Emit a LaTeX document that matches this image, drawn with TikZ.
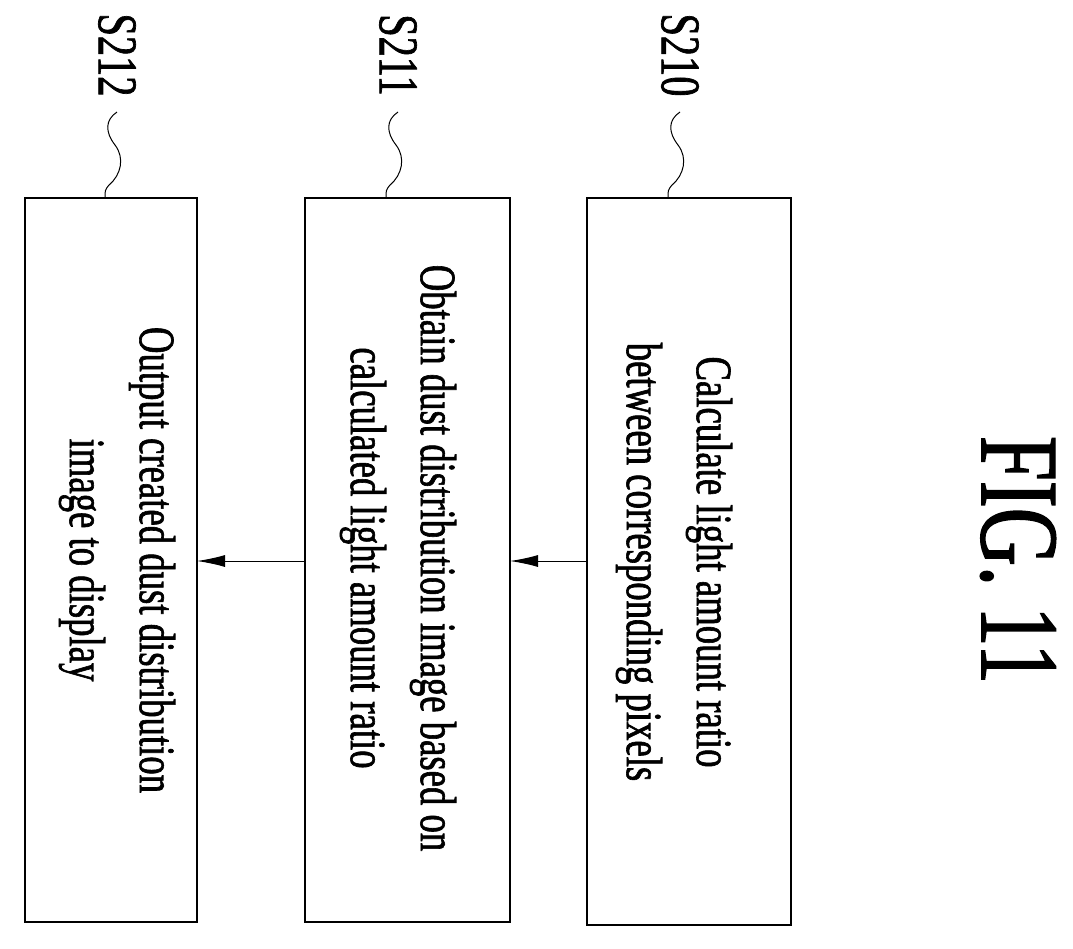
\documentclass[tikz,border=0pt]{standalone}
\usepackage{fontspec}
\setmainfont{Liberation Serif}
\newfontfamily\nar[FakeStretch=0.72,FakeBold=1.2]{Liberation Serif}
\usetikzlibrary{arrows.meta}
\begin{document}
\begin{tikzpicture}[x=1pt,y=-1pt,
  box/.style={draw,line width=2.2pt},
  txt/.style={rotate=-90,align=center,font=\nar\fontsize{51}{70}\selectfont,inner sep=0},
  lab/.style={rotate=-90,font=\nar\fontsize{56}{56}\selectfont,inner sep=0},
  arr/.style={line width=1pt,-{Latex[length=28pt,width=12pt]}},
  lead/.style={line width=1pt}]
\useasboundingbox (0,0) rectangle (1073,948);
\draw[box] (587,198) rectangle (791,925);
\draw[box] (305,198) rectangle (510,922);
\draw[box] (25,198) rectangle (197,922);
\node[txt] (t1) at (674,562) {Calculate light amount ratio\\between corresponding pixels};
\node[txt] (t2) at (398,558) {Obtain dust distribution image based on\\calculated light amount ratio};
\node[txt] (t3) at (117,560) {Output created dust distribution\\image to display};
\coordinate (r1) at (587,561); \coordinate (l2) at (510,561);
\coordinate (r2) at (305,561); \coordinate (l3) at (197,561);
\draw[arr] (r1) -- (l2);
\draw[arr] (r2) -- (l3);
\node[lab] (s1) at (680,55) {S210};
\node[lab] (s2) at (398,55) {S211};
\node[lab] (s3) at (117,55) {S212};
\foreach \x in {680,398,117}{
  \draw[lead] (\x,112) .. controls (\x-12,120) and (\x-12,132) .. (\x-2,145)
     .. controls (\x+8,158) and (\x+4,175) .. (\x-8,185) .. controls (\x-12,190) .. (\x-12,198);
}
\node[rotate=-90,font=\nar\fontsize{112}{112}\selectfont,inner sep=0] (fig) at (1018,560) {FIG. 11};
\end{tikzpicture}
\end{document}
